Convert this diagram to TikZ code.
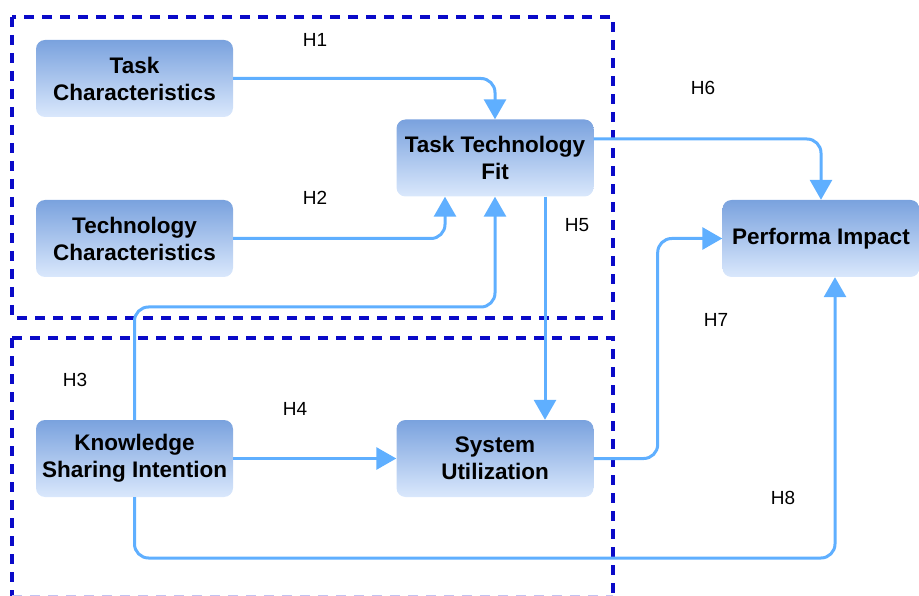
\documentclass[tikz,border=0pt]{standalone}
\usepackage{fontspec}
\setmainfont{Liberation Sans}
\usetikzlibrary{arrows.meta}
\definecolor{arrowblue}{RGB}{95,175,255}
\definecolor{boxtop}{RGB}{122,162,222}
\definecolor{boxbot}{RGB}{218,232,252}
\definecolor{dashblue}{RGB}{10,10,200}
\tikzset{
  box/.style={rounded corners=9pt, top color=boxtop, bottom color=boxbot, draw=none,
    minimum width=197pt, minimum height=77pt, align=center, inner sep=1pt,
    font=\fontsize{22.5}{27}\selectfont\bfseries},
  arr/.style={draw=arrowblue, line width=3pt, rounded corners=14pt,
    -{Triangle[width=22pt,length=20pt]}},
  region/.style={draw=dashblue, line width=3.2pt, dash pattern=on 10pt off 8pt},
  hlabel/.style={font=\fontsize{19}{21}\selectfont, inner sep=0pt}
}
\begin{document}
\begin{tikzpicture}[x=1pt,y=-1pt]
\useasboundingbox (0,0) rectangle (919,596);
% regions
\draw[region] (12,17) rectangle (613,318);
\draw[region] (12,338) -- (613,338) -- (613,600);
\draw[region] (12,338) -- (12,600);
\draw[region, draw=dashblue!25] (12,597) -- (613,597);
% nodes
\node[box] (tc) at (134.5,78.5) {Task\\Characteristics};
\node[box] (tec) at (134.5,238.5) {Technology\\Characteristics};
\node[box] (ttf) at (495,158) {Task Technology\\Fit};
\node[box] (pi) at (821,238.5) {Performa Impact};
\node[box] (ksi) at (134.5,458.5) {Knowledge\\Sharing Intention};
\node[box] (su) at (495,458.5) {System\\Utilization};
\coordinate (k3) at (300,307);
\coordinate (k8) at (500,558);
% connectors
\draw[arr] (tc.east) -| (ttf.north);
\draw[arr] (tec.east) -| ([xshift=-50pt]ttf.south);
\draw[arr] (ksi.north) |- (k3) -| (ttf.south);
\draw[arr] ([xshift=50pt]ttf.south) -- ([xshift=50pt]su.north);
\draw[arr] ([yshift=19pt]ttf.east) -| (pi.north);
\draw[arr] (su.east) -- ++(64,0) |- (pi.west);
\draw[arr] (ksi.east) -- (su.west);
\draw[arr] (ksi.south) |- (k8) -| ([xshift=14pt]pi.south);
% labels
\node[hlabel] (h1) at (315,40) {H1};
\node[hlabel] (h2) at (315,198) {H2};
\node[hlabel] (h3) at (75,380) {H3};
\node[hlabel] (h4) at (295,409) {H4};
\node[hlabel] (h5) at (577,225) {H5};
\node[hlabel] (h6) at (703,88) {H6};
\node[hlabel] (h7) at (716,320) {H7};
\node[hlabel] (h8) at (783,498) {H8};
\end{tikzpicture}
\end{document}
